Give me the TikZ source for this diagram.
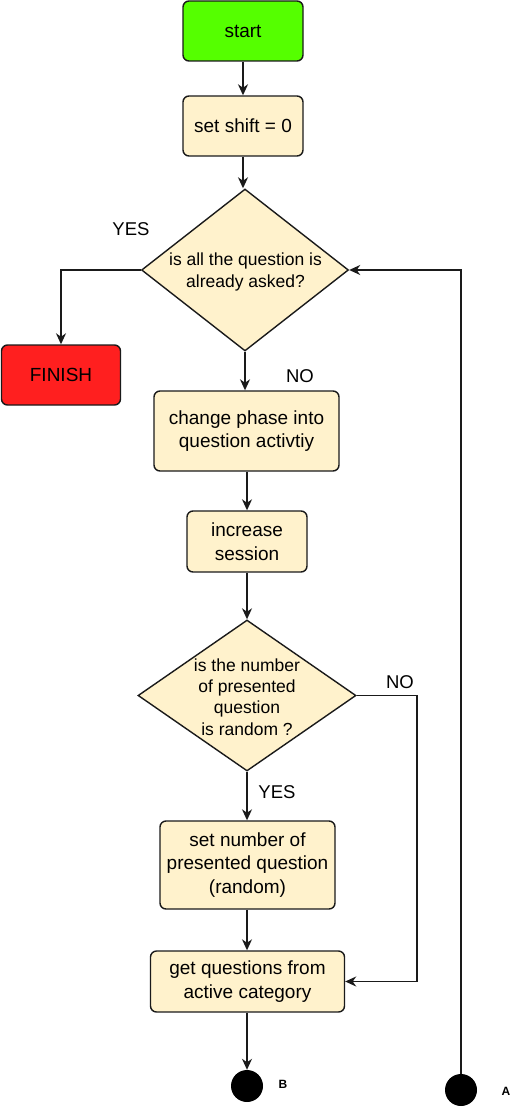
\documentclass[tikz,border=0pt]{standalone}
\usepackage{fontspec}
\setmainfont{Liberation Sans}
\usetikzlibrary{shapes.geometric,arrows.meta}
\definecolor{boxfill}{HTML}{FFF2CC}
\definecolor{startfill}{HTML}{55FF00}
\definecolor{endfill}{HTML}{FF1F1F}
\definecolor{linec}{HTML}{1A1A1A}
\tikzset{
  procbox/.style={draw=linec, line width=1.4pt, rounded corners=6pt, fill=boxfill, align=center, inner sep=0pt,
    font=\fontsize{19}{23.5}\selectfont},
  decbox/.style={draw=linec, line width=1.4pt, diamond, fill=boxfill, inner sep=0pt},
  dtext/.style={align=center, inner sep=0pt, font=\fontsize{17.5}{21.3}\selectfont},
  lbl/.style={inner sep=0pt, font=\fontsize{18.5}{21}\selectfont},
  conn/.style={draw=linec, line width=1.5pt, -{Stealth[length=11pt,width=10pt,inset=3.5pt]}},
  dot/.style={circle, fill=black, inner sep=0pt, minimum size=32pt},
  dotlbl/.style={inner sep=0pt, font=\fontsize{12}{14}\selectfont\bfseries},
}
\begin{document}
\begin{tikzpicture}[x=1pt,y=-1pt]
\useasboundingbox (0,0) rectangle (528,1107);
\node[procbox, fill=startfill, minimum width=120pt, minimum height=60pt] (start) at (243,31) {start};
\node[procbox, minimum width=120pt, minimum height=60pt] (shift) at (243,126) {set shift = 0};
\node[decbox, minimum width=207pt, minimum height=162pt] (d1) at (245,270) {};
\node[dtext] (d1t) at (245.5,272) {is all the question is\\already asked?};
\node[procbox, fill=endfill, minimum width=119pt, minimum height=60pt] (finish) at (61,375) {FINISH};
\node[procbox, minimum width=185pt, minimum height=80pt] (phase) at (246.5,431) {change phase into\\question activtiy};
\node[procbox, minimum width=120pt, minimum height=61pt] (incr) at (247,541.5) {increase\\session};
\node[decbox, minimum width=218pt, minimum height=151pt] (d2) at (247,695.5) {};
\node[dtext] (d2t) at (247,697) {is the number\\of presented\\question\\is random ?};
\node[procbox, minimum width=175pt, minimum height=88pt] (setnum) at (247.5,865) {set number of\\presented question\\(random)};
\node[procbox, minimum width=194pt, minimum height=61pt] (getq) at (247.5,981.5) {get questions from\\active category};
\node[dot] (B) at (247,1086) {};
\node[dotlbl] (Bl) at (283,1084) {B};
\node[dot] (A) at (461,1090) {};
\node[dotlbl] (Al) at (506,1091) {A};
\node[lbl] (yes1) at (131,229) {YES};
\node[lbl] (no1) at (300,376) {NO};
\node[lbl] (no2) at (400,682) {NO};
\node[lbl] (yes2) at (277,792) {YES};
\coordinate (noc) at (417,695.5);
\draw[conn] (start.south) -- (start.south |- shift.north);
\draw[conn] (shift.south) -- (shift.south |- d1.north);
\draw[conn] (d1.west) -| (finish.north);
\draw[conn] (d1.south) -- (d1.south |- phase.north);
\draw[conn] (incr.north |- phase.south) -- (incr.north);
\draw[conn] (incr.south) -- (incr.south |- d2.north);
\draw[conn] (d2.south) -- (d2.south |- setnum.north);
\draw[conn] (d2.south |- setnum.south) -- (d2.south |- getq.north);
\draw[conn] (d2.east) -- (noc) |- (getq.east);
\draw[conn] (B.north |- getq.south) -- (B.north);
\draw[conn] (A.north) |- (d1.east);
\end{tikzpicture}
\end{document}
